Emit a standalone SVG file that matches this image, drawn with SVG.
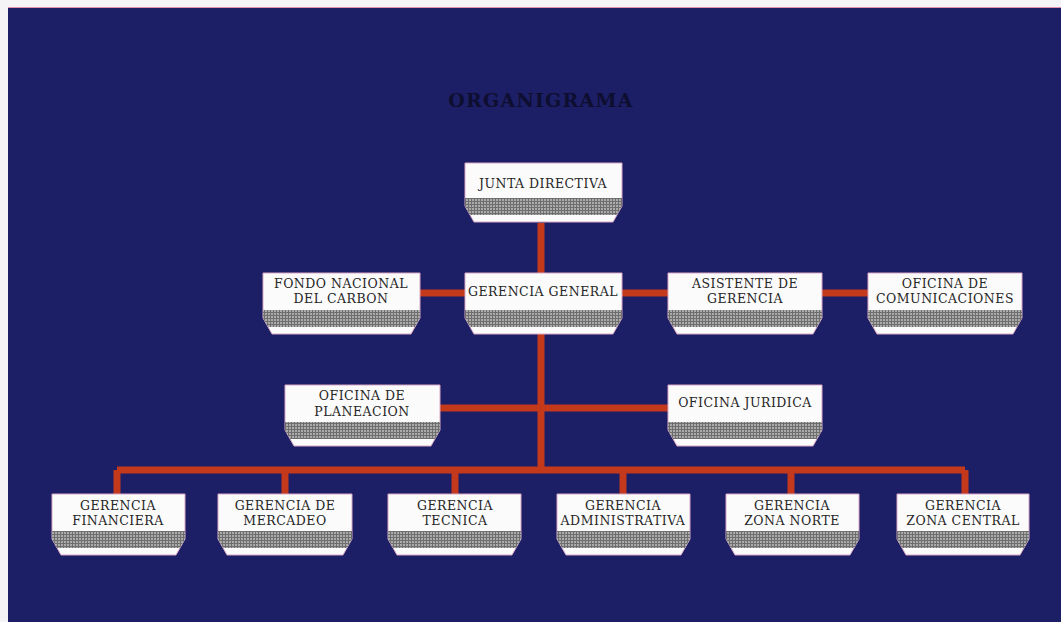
<svg xmlns="http://www.w3.org/2000/svg" width="1061" height="622" viewBox="0 0 1061 622">
<defs>
<pattern id="hatch" width="3" height="3" patternUnits="userSpaceOnUse">
<rect width="3" height="3" fill="#ababab"/>
<path d="M0 0.5H3M0.5 0V3" stroke="#6e6e6e" stroke-width="1"/>
</pattern>
<style>
.box{fill:#fbfbfb;stroke:#d9a7c4;stroke-width:1}
.band{fill:url(#hatch)}
.lbl{font-family:"DejaVu Serif","Liberation Serif",serif;font-size:12.5px;fill:#262626;text-anchor:middle;letter-spacing:0.5px}
.con{stroke:#c4391b;stroke-width:7;fill:none;stroke-linecap:butt}
.title{font-family:"DejaVu Serif","Liberation Serif",serif;font-size:19px;font-weight:bold;fill:#0e0e30;text-anchor:middle;letter-spacing:1.2px}
</style>
</defs>
<rect x="0" y="0" width="1061" height="622" fill="#f4f4f6"/>
<rect x="8" y="7" width="1053" height="615" fill="#1c1e66"/>
<line x1="8" y1="7.5" x2="1061" y2="7.5" stroke="#e58fb0" stroke-width="1"/>
<text class="title" x="541" y="107">ORGANIGRAMA</text>
<g id="connectors">
<path class="con" d="M541 223V470"/>
<path class="con" d="M420 293H868"/>
<path class="con" d="M440 408H668"/>
<path class="con" d="M117 470H965"/>
<path class="con" d="M117 470V494M285 470V494M455 470V494M623 470V494M791 470V494M965 470V494"/>
</g>
<g id="junta">
<path class="box" d="M465 163H622V206L613 222H474L465 206Z"/>
<path class="band" d="M465 198H622V206L617 215H470L465 206Z"/>
<text class="lbl" x="543" y="188">JUNTA DIRECTIVA</text>
</g>
<g id="fondo">
<path class="box" d="M263 273H420V318L411 334H272L263 318Z"/>
<path class="band" d="M263 310H420V318L415 327H268L263 318Z"/>
<text class="lbl" x="341" y="288">FONDO NACIONAL</text>
<text class="lbl" x="341" y="303">DEL CARBON</text>
</g>
<g id="gerencia-general">
<path class="box" d="M465 273H622V318L613 334H474L465 318Z"/>
<path class="band" d="M465 310H622V318L617 327H470L465 318Z"/>
<text class="lbl" x="543" y="296">GERENCIA GENERAL</text>
</g>
<g id="asistente">
<path class="box" d="M668 273H822V318L813 334H677L668 318Z"/>
<path class="band" d="M668 310H822V318L817 327H673L668 318Z"/>
<text class="lbl" x="745" y="288">ASISTENTE DE</text>
<text class="lbl" x="745" y="303">GERENCIA</text>
</g>
<g id="comunicaciones">
<path class="box" d="M868 273H1022V318L1013 334H877L868 318Z"/>
<path class="band" d="M868 310H1022V318L1017 327H873L868 318Z"/>
<text class="lbl" x="945" y="288">OFICINA DE</text>
<text class="lbl" x="945" y="303">COMUNICACIONES</text>
</g>
<g id="planeacion">
<path class="box" d="M285 385H440V430L431 446H294L285 430Z"/>
<path class="band" d="M285 422H440V430L435 439H290L285 430Z"/>
<text class="lbl" x="362" y="400">OFICINA DE</text>
<text class="lbl" x="362" y="416">PLANEACION</text>
</g>
<g id="juridica">
<path class="box" d="M668 385H822V430L813 446H677L668 430Z"/>
<path class="band" d="M668 422H822V430L817 439H673L668 430Z"/>
<text class="lbl" x="745" y="407">OFICINA JURIDICA</text>
</g>
<g id="financiera">
<path class="box" d="M52 494H185V539L176 555H61L52 539Z"/>
<path class="band" d="M52 531H185V539L180 548H57L52 539Z"/>
<text class="lbl" x="118" y="510">GERENCIA</text>
<text class="lbl" x="118" y="525">FINANCIERA</text>
</g>
<g id="mercadeo">
<path class="box" d="M218 494H352V539L343 555H227L218 539Z"/>
<path class="band" d="M218 531H352V539L347 548H223L218 539Z"/>
<text class="lbl" x="285" y="510">GERENCIA DE</text>
<text class="lbl" x="285" y="525">MERCADEO</text>
</g>
<g id="tecnica">
<path class="box" d="M388 494H521V539L512 555H397L388 539Z"/>
<path class="band" d="M388 531H521V539L516 548H393L388 539Z"/>
<text class="lbl" x="455" y="510">GERENCIA</text>
<text class="lbl" x="455" y="525">TECNICA</text>
</g>
<g id="administrativa">
<path class="box" d="M557 494H690V539L681 555H566L557 539Z"/>
<path class="band" d="M557 531H690V539L685 548H562L557 539Z"/>
<text class="lbl" x="623" y="510">GERENCIA</text>
<text class="lbl" x="623" y="525">ADMINISTRATIVA</text>
</g>
<g id="zona-norte">
<path class="box" d="M726 494H859V539L850 555H735L726 539Z"/>
<path class="band" d="M726 531H859V539L854 548H731L726 539Z"/>
<text class="lbl" x="792" y="510">GERENCIA</text>
<text class="lbl" x="792" y="525">ZONA NORTE</text>
</g>
<g id="zona-central">
<path class="box" d="M897 494H1029V539L1020 555H906L897 539Z"/>
<path class="band" d="M897 531H1029V539L1024 548H902L897 539Z"/>
<text class="lbl" x="963" y="510">GERENCIA</text>
<text class="lbl" x="963" y="525">ZONA CENTRAL</text>
</g>
</svg>
